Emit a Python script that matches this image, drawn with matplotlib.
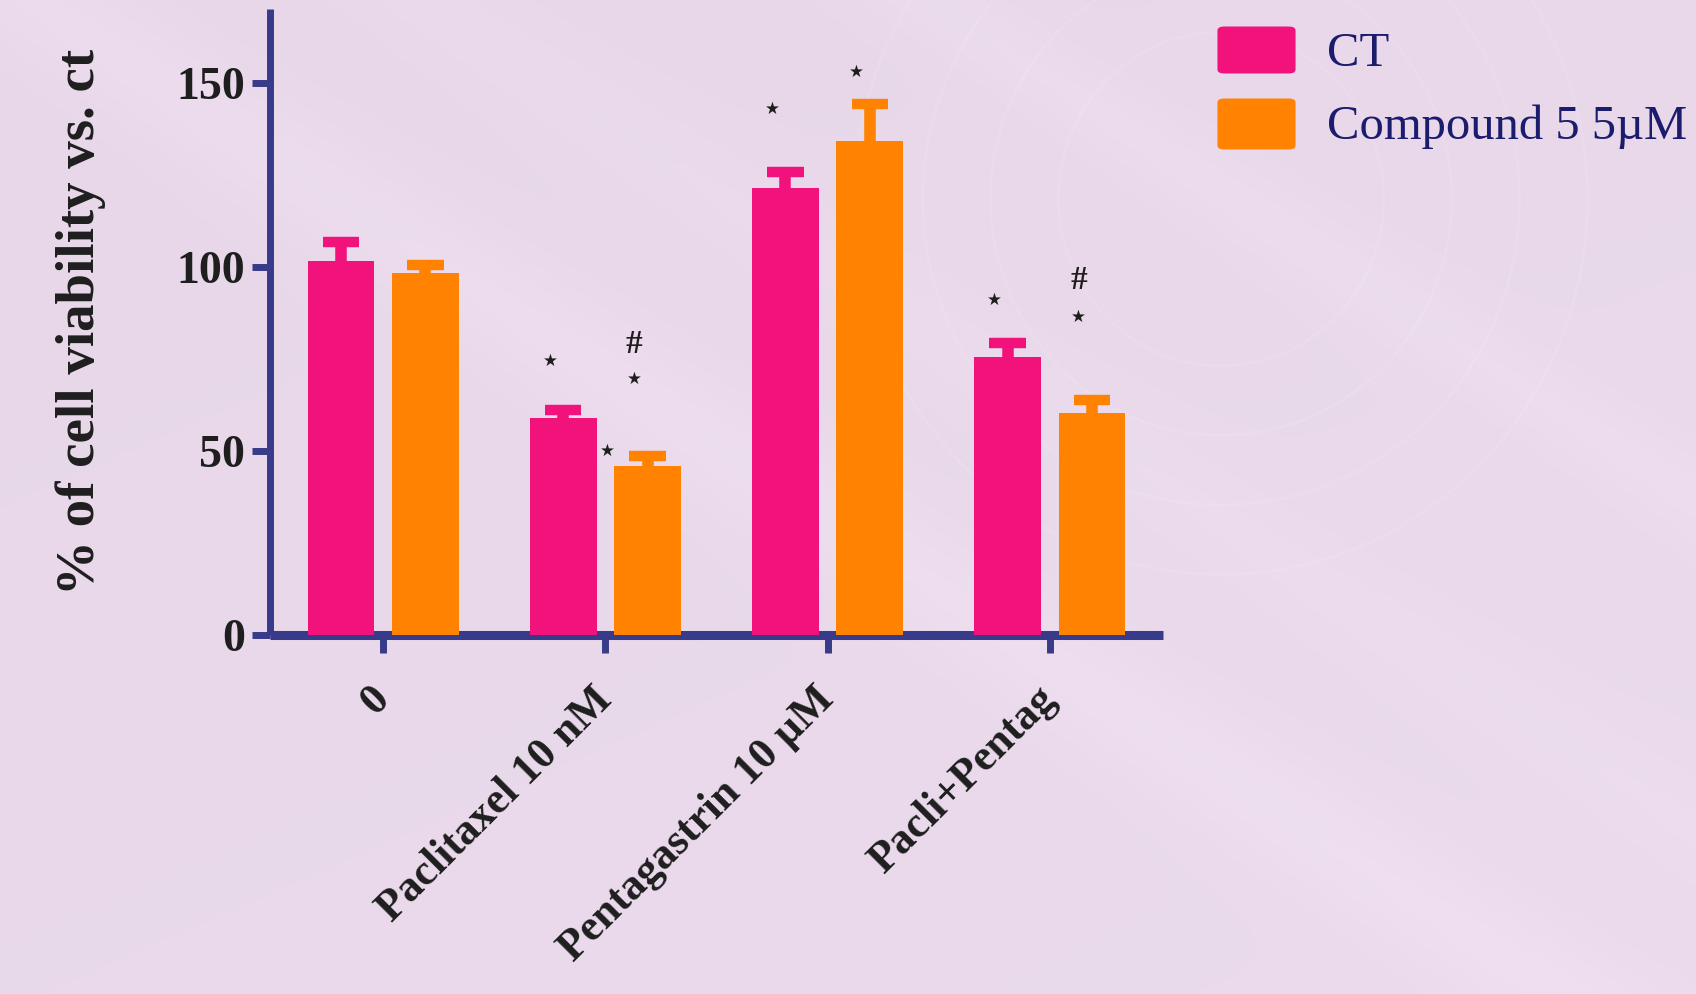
import numpy as np
import matplotlib
matplotlib.use("Agg")
import matplotlib.pyplot as plt
from matplotlib.patches import Ellipse, FancyBboxPatch
from matplotlib.transforms import ScaledTranslation

# ---- data ----
groups = ["0", "Paclitaxel 10 nM", "Pentagastrin 10 \u00b5M", "Pacli+Pentag"]
series = ["CT", "Compound 5 5\u00b5M"]
ct_mean = [101.5, 58.8, 121.3, 75.5]
ct_err = [5.3, 2.3, 4.3, 3.7]
cmp_mean = [98.2, 46.0, 134.1, 60.3]
cmp_err = [2.3, 2.6, 10.0, 3.4]
yticks = [0, 50, 100, 150]

# significance marks: (group index, series index, symbol, y)
marks = [
    (1, 0, "*", 74.5), (1, 1, "*", 69.5), (1, 1, "#", 79),
    (2, 0, "*", 143), (2, 1, "*", 153),
    (3, 0, "*", 91), (3, 1, "*", 86.3), (3, 1, "#", 96.3),
]
extra_mark = (1, "*", 50)   # star between the Paclitaxel bars

pink = "#f2127c"
orange = "#ff8200"
navy = "#383a8a"
textc = "#1e1e1e"

W, H = 1696, 994
fig = plt.figure(figsize=(W / 100, H / 100), dpi=100)

# ---- soft lavender backdrop ----
bg = fig.add_axes([0, 0, 1, 1], zorder=-10)
yy, xx = np.mgrid[0:1:200j, 0:1:340j]
base = np.array([231, 215, 233]) / 255.0
light = np.array([245, 230, 246]) / 255.0
t = 0.3 * xx + 0.4 * yy
streak = 0.30 * np.exp(-((xx - yy * 0.9 - 0.02) ** 2) / 0.004) \
    + 0.22 * np.exp(-((xx - yy * 0.9 - 0.55) ** 2) / 0.002) \
    + 0.15 * np.exp(-((xx - yy * 0.9 - 0.25) ** 2) / 0.003)
w = np.clip(t * 0.35 + streak, 0, 1)[..., None]
img = base * (1 - w) + light * w
bg.imshow(img, extent=[0, 1, 0, 1], aspect="auto", origin="upper")
for r in [0.12, 0.17, 0.22, 0.27]:
    bg.add_patch(Ellipse((0.72, 0.80), 2 * r * 0.8, 2 * r * 1.4,
                         fill=False, ec="white", lw=2.0, alpha=0.10))
bg.set_xlim(0, 1)
bg.set_ylim(0, 1)
bg.axis("off")

# ---- bar chart ----
ax = fig.add_axes([270 / W, 1 - 635 / H, (1163 - 270) / W, (635 - 9) / H])
ax.patch.set_alpha(0)

x = np.arange(len(groups))
bw = 0.30
off = 0.19
cap_half = 0.082
for pos, mean, err, col in [(x - off, ct_mean, ct_err, pink),
                            (x + off, cmp_mean, cmp_err, orange)]:
    ax.bar(pos, mean, bw, color=col, zorder=3)
    top = np.array(mean) + np.array(err)
    ax.vlines(pos, mean, top, color=col, lw=8.3, zorder=2)
    ax.hlines(top, pos - cap_half, pos + cap_half, color=col, lw=7.5,
              zorder=2)

for g, s, sym, yv in marks:
    xp = x[g] + (off if s else -off) - 0.06
    if sym == "*":
        ax.text(xp, yv, "\u2605", ha="center", va="center", fontsize=12,
                color=textc, family="DejaVu Sans")
    else:
        ax.text(xp, yv, sym, ha="center", va="center", fontsize=24,
                color=textc, family="Liberation Serif", fontweight="bold")
g, sym, yv = extra_mark
ax.text(x[g] + 0.01, yv, "\u2605", ha="center", va="center", fontsize=12,
        color=textc, family="DejaVu Sans")

ax.set_xlim(-0.51, 3.51)
ax.set_ylim(0, 170)
ax.set_yticks(yticks)
ax.set_xticks(x)
ax.set_yticklabels([str(v) for v in yticks], fontsize=33,
                   family="Liberation Serif", fontweight="bold", color=textc)
ax.set_xticklabels(groups, rotation=45, ha="right", va="center",
                   rotation_mode="anchor", fontsize=31.5,
                   family="Liberation Serif", fontweight="bold", color=textc)
shift = ScaledTranslation(0.14, -0.03, fig.dpi_scale_trans)
for lab in ax.get_xticklabels():
    lab.set_transform(lab.get_transform() + shift)
for sp in ["top", "right"]:
    ax.spines[sp].set_visible(False)
ax.spines["left"].set_color(navy)
ax.spines["left"].set_linewidth(5)
ax.spines["bottom"].set_color(navy)
ax.spines["bottom"].set_linewidth(6.5)
for sp in ["left", "bottom"]:
    ax.spines[sp].set_capstyle("butt")
ax.tick_params(axis="both", direction="out", length=13, width=5, color=navy)
ax.tick_params(axis="y", pad=5)
ax.tick_params(axis="x", pad=29)

fig.text(81 / W, 1 - 322 / H, "% of cell viability vs. ct", rotation=90,
         ha="center", va="center", fontsize=39.5, family="Liberation Serif",
         fontweight="bold", color=textc)

# ---- legend ----
leg_rows = [(series[0], pink, 26, 74, 66), (series[1], orange, 98, 150, 139)]
for label, col, y0, y1, base_y in leg_rows:
    fig.patches.append(FancyBboxPatch(
        (1220 / W, 1 - (y1 - 2) / H), 73 / W, (y1 - y0 - 4) / H,
        boxstyle="round,pad=0.0015,rounding_size=0.004",
        transform=fig.transFigure, fc=col, ec="none"))
    fig.text(1327 / W, 1 - base_y / H, label, ha="left", va="baseline",
             fontsize=35, family="Liberation Serif", color="#1c1c6e")

fig.savefig("out.png", dpi=100)
